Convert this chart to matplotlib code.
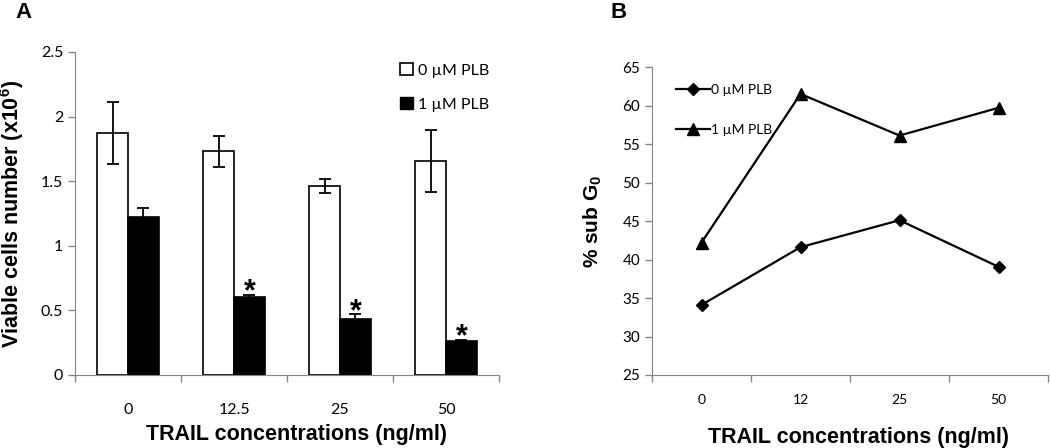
import matplotlib
matplotlib.use("Agg")
import matplotlib.pyplot as plt
import numpy as np
from matplotlib.patches import Patch

plt.rcParams['mathtext.fontset'] = 'custom'
plt.rcParams['mathtext.rm'] = 'Liberation Sans'
plt.rcParams['mathtext.bf'] = 'Liberation Sans:bold'

# ---- Data ----
conc_a = ['0', '12.5', '25', '50']
plb0_mean = [1.87, 1.73, 1.46, 1.66]
plb0_err = [0.24, 0.12, 0.055, 0.24]
plb1_mean = [1.22, 0.60, 0.43, 0.26]
plb1_err = [0.07, 0.02, 0.04, 0.01]
signif = [False, True, True, True]

conc_b = ['0', '12', '25', '50']
subg0_plb0 = [34.1, 41.6, 45.1, 39.05]
subg0_plb1 = [42.2, 61.5, 56.1, 59.7]

series_labels = ['0 µM PLB', '1 µM PLB']

tick_font = 'Lato'
lab_font = 'Liberation Sans'
spine_col = '#868686'

fig = plt.figure(figsize=(10.5, 4.48), dpi=100)

# ---- Panel A ----
axA = fig.add_axes([75/1050, 1-375/448, (499-75)/1050, (375-52)/448])
x = np.arange(len(conc_a))
w = 0.29
axA.bar(x - w/2, plb0_mean, w, color='white', edgecolor='black', linewidth=1.2,
        yerr=plb0_err, error_kw=dict(ecolor='black', elinewidth=1.3, capsize=4.5, capthick=1.3),
        label=series_labels[0], zorder=2)
axA.bar(x + w/2, plb1_mean, w, color='black', edgecolor='black', linewidth=1.2,
        yerr=plb1_err, error_kw=dict(ecolor='black', elinewidth=1.3, capsize=4.5, capthick=1.3),
        label=series_labels[1], zorder=2)
for i, s in enumerate(signif):
    if s:
        axA.annotate('*', (x[i] + w/2, plb1_mean[i] + plb1_err[i]), xytext=(0, -4),
                     textcoords='offset points', ha='center', va='baseline',
                     fontsize=22, fontweight='bold', family=lab_font)
axA.set_xlim(-0.5, 3.5)
axA.set_ylim(0, 2.5)
axA.set_yticks([0, 0.5, 1, 1.5, 2, 2.5])
axA.set_yticklabels(['0', '0.5', '1', '1.5', '2', '2.5'])
axA.set_xticks(np.arange(-0.5, 4, 1))
axA.set_xticklabels([])
axA.set_xticks(x, minor=True)
axA.set_xticklabels(conc_a, minor=True)
axA.tick_params(axis='x', which='minor', length=0, pad=20)
axA.tick_params(axis='both', which='major', direction='out', length=5, color=spine_col, width=1)
for lbl in axA.get_yticklabels() + axA.get_xticklabels(minor=True):
    lbl.set_family(tick_font); lbl.set_fontsize(11.5)
for s in ['top', 'right']:
    axA.spines[s].set_visible(False)
for s in ['left', 'bottom']:
    axA.spines[s].set_color(spine_col)
axA.set_ylabel(r'Viable cells number (x10$^{\mathbf{6}}$)', fontsize=15.5, fontweight='bold',
               family=lab_font, va='center')
axA.yaxis.set_label_coords((12-75)/424, 0.5)
axA.set_xlabel('TRAIL concentrations (ng/ml)', fontsize=15.5, fontweight='bold',
               family=lab_font, va='center')
axA.xaxis.set_label_coords((297-75)/424, (375-434)/323)
axA.legend(handles=[Patch(facecolor='white', edgecolor='black', linewidth=1.2),
                    Patch(facecolor='black', edgecolor='black')],
           labels=series_labels, loc='upper right', bbox_to_anchor=(1.01, 1.01),
           frameon=False, handlelength=0.8, handleheight=0.8, handletextpad=0.3,
           labelspacing=1.2, prop=dict(family=tick_font, size=11.5))

fig.text(23/1050, 1-12/448, 'A', fontsize=16, fontweight='bold', family=lab_font,
         ha='center', va='center')

# ---- Panel B ----
axB = fig.add_axes([652/1050, 1-375/448, (1048-652)/1050, (375-67)/448])
xb = np.arange(len(conc_b))
axB.plot(xb, subg0_plb0, color='black', lw=1.6, marker='D', markersize=6.5, label=series_labels[0])
axB.plot(xb, subg0_plb1, color='black', lw=1.6, marker='^', markersize=9, label=series_labels[1])
axB.set_xlim(-0.5, 3.5)
axB.set_ylim(25, 65)
axB.set_yticks(np.arange(25, 66, 5))
axB.set_xticks(np.arange(-0.5, 4, 1))
axB.set_xticklabels([])
axB.set_xticks(xb, minor=True)
axB.set_xticklabels(conc_b, minor=True)
axB.tick_params(axis='x', which='minor', length=0, pad=14)
axB.tick_params(axis='both', which='major', direction='out', length=5, color=spine_col, width=1)
for lbl in axB.get_yticklabels():
    lbl.set_family(tick_font); lbl.set_fontsize(11)
for lbl in axB.get_xticklabels(minor=True):
    lbl.set_family(tick_font); lbl.set_fontsize(10)
for s in ['top', 'right']:
    axB.spines[s].set_visible(False)
for s in ['left', 'bottom']:
    axB.spines[s].set_color(spine_col)
axB.set_ylabel(r'% sub G$_{\mathbf{0}}$', fontsize=15, fontweight='bold', family=lab_font,
               va='center')
axB.yaxis.set_label_coords((593-652)/396, 0.5)
axB.set_xlabel('TRAIL concentrations (ng/ml)', fontsize=15.5, fontweight='bold',
               family=lab_font, va='center')
axB.xaxis.set_label_coords((859-652)/396, (375-437)/308)
axB.legend(loc='upper left', bbox_to_anchor=(0.03, 0.985), frameon=False, handlelength=2.4,
           handletextpad=0.1, labelspacing=2.0, prop=dict(family=tick_font, size=10))

fig.text(619/1050, 1-12/448, 'B', fontsize=16, fontweight='bold', family=lab_font,
         ha='center', va='center')

fig.savefig('out.png', dpi=100)
